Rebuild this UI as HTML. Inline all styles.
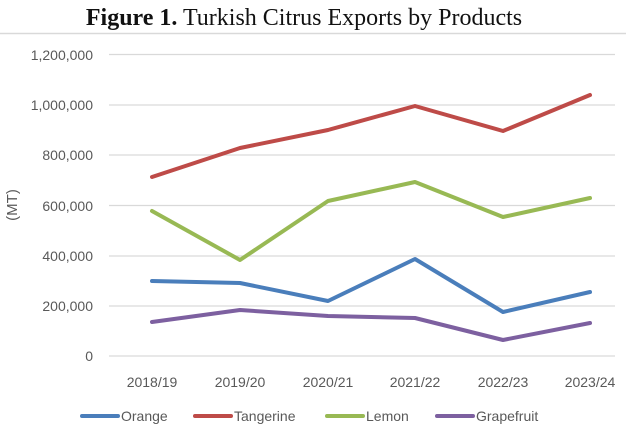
<!DOCTYPE html>
<html><head><style>body{margin:0;background:#fff}svg{display:block}</style></head><body>
<svg width="626" height="426" xmlns="http://www.w3.org/2000/svg">
<text x="304" y="25" text-anchor="middle" font-family="Liberation Serif, serif" font-size="24" fill="#111"><tspan font-weight="bold">Figure 1.</tspan> Turkish Citrus Exports by Products</text>
<line x1="0" y1="33.5" x2="626" y2="33.5" stroke="#d9d9d9" stroke-width="1.5"/>
<g stroke="#d9d9d9" stroke-width="1.2">
<line x1="109" y1="54.5" x2="615" y2="54.5"/><line x1="109" y1="105" x2="615" y2="105"/><line x1="109" y1="155" x2="615" y2="155"/><line x1="109" y1="205.5" x2="615" y2="205.5"/><line x1="109" y1="256" x2="615" y2="256"/><line x1="109" y1="306" x2="615" y2="306"/><line x1="109" y1="356" x2="615" y2="356"/>
</g>
<g font-family="Liberation Sans, sans-serif" font-size="14" fill="#595959" text-anchor="end">
<text x="93" y="60">1,200,000</text><text x="93" y="110">1,000,000</text><text x="93" y="160">800,000</text><text x="93" y="211">600,000</text><text x="93" y="261">400,000</text><text x="93" y="311">200,000</text><text x="93" y="361">0</text>
</g>
<text transform="translate(17,205) rotate(-90)" text-anchor="middle" font-family="Liberation Sans, sans-serif" font-size="15" fill="#595959">(MT)</text>
<g font-family="Liberation Sans, sans-serif" font-size="14" fill="#595959" text-anchor="middle">
<text x="152" y="387">2018/19</text><text x="240" y="387">2019/20</text><text x="328" y="387">2020/21</text><text x="415" y="387">2021/22</text><text x="503" y="387">2022/23</text><text x="590" y="387">2023/24</text>
</g>
<g fill="none" stroke-width="4" stroke-linejoin="round" stroke-linecap="round">
<polyline stroke="#4a7ebb" points="152,281 240,283 328,301 415,259 503,312 590,292"/>
<polyline stroke="#be4b48" points="152,177 240,148 328,130 415,106 503,131 590,95"/>
<polyline stroke="#98b954" points="152,211 240,260 328,201 415,182 503,217 590,198"/>
<polyline stroke="#7d60a0" points="152,322 240,310 328,316 415,318 503,340 590,323"/>
</g>
<g stroke-width="4" stroke-linecap="round">
<line x1="82" y1="416" x2="118" y2="416" stroke="#4a7ebb"/>
<line x1="195" y1="416" x2="231" y2="416" stroke="#be4b48"/>
<line x1="327" y1="416" x2="363" y2="416" stroke="#98b954"/>
<line x1="437" y1="416" x2="473" y2="416" stroke="#7d60a0"/>
</g>
<g font-family="Liberation Sans, sans-serif" font-size="14" fill="#595959">
<text x="121" y="421">Orange</text><text x="234" y="421">Tangerine</text><text x="366" y="421">Lemon</text><text x="476" y="421">Grapefruit</text>
</g>
</svg>
</body></html>
